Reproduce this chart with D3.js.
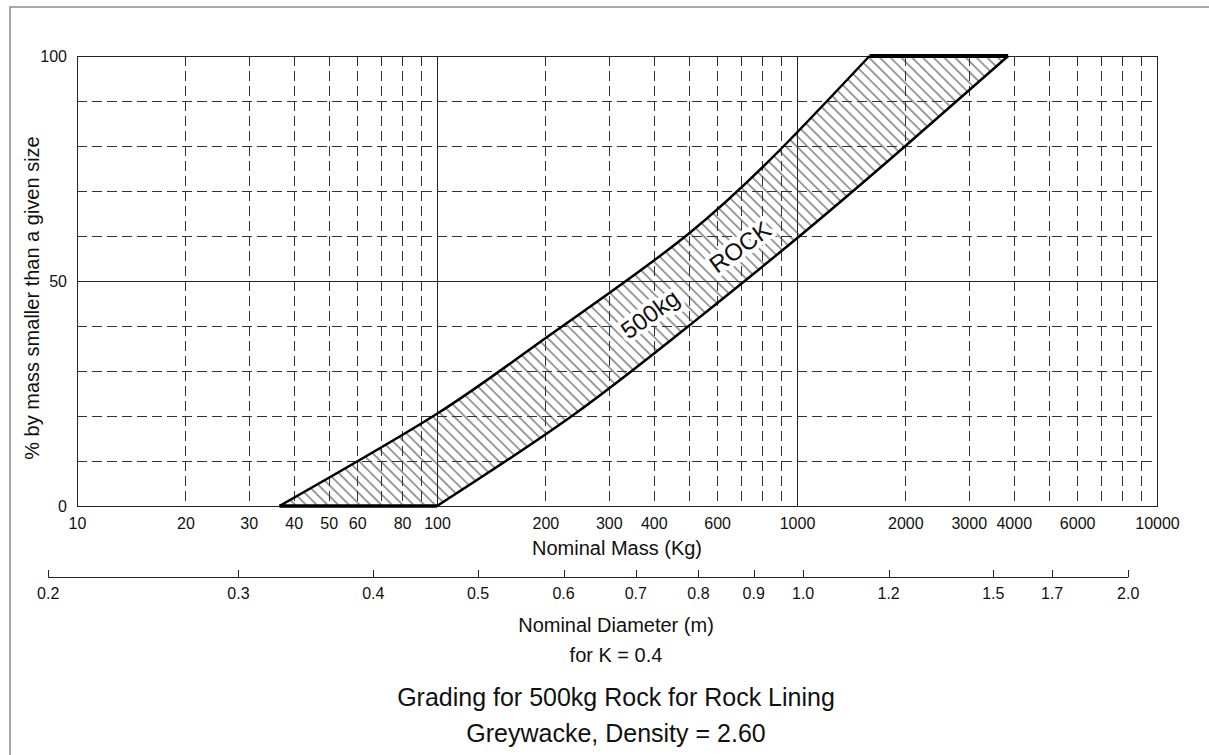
<!DOCTYPE html>
<html>
<head>
<meta charset="utf-8">
<title>Grading for 500kg Rock</title>
<style>
  body { margin: 0; background: #fff; }
  text { font-family: "Liberation Sans", Arial, sans-serif; fill: #111; }
</style>
</head>
<body>
<script src="https://cdn.jsdelivr.net/npm/d3@7"></script>
<script>
// values
var massTicks = [10, 20, 30, 40, 50, 60, 80, 100, 200, 300, 400, 600, 1000, 2000, 3000, 4000, 6000, 10000];
var pctTicks = [0, 50, 100];
var diamTicks = [0.2, 0.3, 0.4, 0.5, 0.6, 0.7, 0.8, 0.9, 1.0, 1.2, 1.5, 1.7, 2.0];
var K = 0.4, density = 2600; // kg/m3, M = K * rho * D^3

// finer limit (upper/left curve)
var fineMass = [36.5, 100, 200, 500, 1000, 1590];
var finePct  = [0, 20.5, 37.3, 60.5, 83, 100];
// coarser limit (lower/right curve)
var coarseMass = [100, 237, 500, 1000, 2000, 3860];
var coarsePct  = [0, 20, 40, 59.5, 80, 100];

var w = 1209, h = 755;
var svg = d3.select("body").append("svg").attr("width", w).attr("height", h);

// outer frame (top and left only)
svg.append("path").attr("d", "M10,755 L10,7 L1209,7")
	.attr("fill", "none").attr("stroke", "#8a8a8a").attr("stroke-width", 1.5);

var pLeft = 77, pRight = 1157, pTop = 56, pBottom = 506;
var x = d3.scaleLog().domain([10, 10000]).range([pLeft, pRight]);
var y = d3.scaleLinear().domain([0, 100]).range([pBottom, pTop]);

var defs = svg.append("defs");
var pat = defs.append("pattern").attr("id", "hatch")
	.attr("patternUnits", "userSpaceOnUse").attr("width", 7.6).attr("height", 7.6)
	.attr("patternTransform", "rotate(-45)");
pat.append("line").attr("x1", 3.8).attr("y1", -1).attr("x2", 3.8).attr("y2", 8.6)
	.attr("stroke", "#3a3a3a").attr("stroke-width", 1);

// grid
var g = svg.append("g");
var isMajorX = function(d){ return [10, 100, 1000, 10000].indexOf(d) >= 0; };
g.selectAll("line.vx").data(x.ticks()).enter().append("line")
	.attr("x1", function(d){ return Math.round(x(d)) + 0.5; })
	.attr("x2", function(d){ return Math.round(x(d)) + 0.5; })
	.attr("y1", pTop).attr("y2", pBottom)
	.attr("stroke", function(d){ return isMajorX(d) ? "#222" : "#333"; })
	.attr("stroke-width", 1)
	.attr("stroke-dasharray", function(d){ return isMajorX(d) ? null : "10,5"; });
g.selectAll("line.hy").data(y.ticks(10)).enter().append("line")
	.attr("y1", function(d){ return Math.round(y(d)) + 0.5; })
	.attr("y2", function(d){ return Math.round(y(d)) + 0.5; })
	.attr("x1", pLeft).attr("x2", pRight)
	.attr("stroke", function(d){ return d % 50 === 0 ? "#222" : "#333"; })
	.attr("stroke-width", 1)
	.attr("stroke-dasharray", function(d){ return d % 50 === 0 ? null : "10,5"; });
g.append("rect").attr("x", pLeft + 0.5).attr("y", pTop + 0.5)
	.attr("width", pRight - pLeft).attr("height", pBottom - pTop)
	.attr("fill", "none").attr("stroke", "#222");

// band: hatch right of the fine curve, clipped to the left of the coarse curve
var finePts = fineMass.map(function(m, i){ return [x(m), y(finePct[i])]; });
var coarsePts = coarseMass.map(function(m, i){ return [x(m), y(coarsePct[i])]; });
var line = d3.line().curve(d3.curveNatural);

defs.append("clipPath").attr("id", "leftOfCoarse").append("path")
	.attr("d", line(coarsePts) + "L" + pLeft + "," + y(100) + "L" + pLeft + "," + y(0) + "Z");
svg.append("path")
	.attr("d", line(finePts) + "L" + pRight + "," + y(100) + "L" + pRight + "," + y(0) + "Z")
	.attr("fill", "url(#hatch)").attr("clip-path", "url(#leftOfCoarse)");

svg.append("path").attr("d", line(finePts)).attr("fill", "none")
	.attr("stroke", "#000").attr("stroke-width", 2.5);
svg.append("path").attr("d", line(coarsePts)).attr("fill", "none")
	.attr("stroke", "#000").attr("stroke-width", 2.5);
svg.append("line").attr("x1", x(fineMass[0])).attr("x2", x(coarseMass[0]))
	.attr("y1", y(0)).attr("y2", y(0)).attr("stroke", "#000").attr("stroke-width", 3.5);
svg.append("line").attr("x1", x(fineMass[fineMass.length - 1])).attr("x2", x(coarseMass[coarseMass.length - 1]))
	.attr("y1", y(100)).attr("y2", y(100)).attr("stroke", "#000").attr("stroke-width", 4);

// band labels
[["500kg", 650, 314], ["ROCK", 740, 247]].forEach(function(t){
	svg.append("text").attr("transform", "translate(" + t[1] + "," + t[2] + ") rotate(-36)")
		.attr("text-anchor", "middle").attr("dy", "0.35em")
		.attr("font-size", 24)
		.attr("stroke", "#fff").attr("stroke-width", 8).attr("paint-order", "stroke")
		.attr("stroke-linejoin", "round")
		.text(t[0]);
});

// axes
var xAxis = svg.append("g").attr("transform", "translate(0," + pBottom + ")")
	.call(d3.axisBottom(x).tickValues(massTicks).tickSize(0).tickPadding(12).tickFormat(d3.format("d")));
xAxis.select(".domain").remove();
xAxis.selectAll("text").attr("font-size", 16).attr("font-family", null).style("fill", "#111");

var yAxis = svg.append("g").attr("transform", "translate(" + pLeft + ",0)")
	.call(d3.axisLeft(y).tickValues(pctTicks).tickSize(0).tickPadding(10));
yAxis.select(".domain").remove();
yAxis.selectAll("text").attr("font-size", 16).attr("font-family", null).style("fill", "#111");

// diameter axis
var dx = function(d){ return x(K * density * d * d * d); };
var dAxisY = 577;
var dg = svg.append("g");
dg.append("line").attr("x1", dx(diamTicks[0])).attr("x2", dx(diamTicks[diamTicks.length - 1]))
	.attr("y1", dAxisY + 0.5).attr("y2", dAxisY + 0.5).attr("stroke", "#222");
dg.selectAll("line.t").data(diamTicks).enter().append("line")
	.attr("x1", function(d){ return Math.round(dx(d)) + 0.5; })
	.attr("x2", function(d){ return Math.round(dx(d)) + 0.5; })
	.attr("y1", dAxisY - 7).attr("y2", dAxisY).attr("stroke", "#222");
dg.selectAll("text").data(diamTicks).enter().append("text")
	.attr("x", dx).attr("y", 599).attr("text-anchor", "middle").attr("font-size", 16)
	.text(d3.format(".1f"));

// titles
svg.append("text").attr("x", 617).attr("y", 555).attr("text-anchor", "middle")
	.attr("font-size", 20).text("Nominal Mass (Kg)");
svg.append("text").attr("transform", "translate(39,298) rotate(-90)").attr("text-anchor", "middle")
	.attr("font-size", 20).text("% by mass smaller than a given size");
svg.append("text").attr("x", 616).attr("y", 632).attr("text-anchor", "middle")
	.attr("font-size", 20).text("Nominal Diameter (m)");
svg.append("text").attr("x", 616).attr("y", 662).attr("text-anchor", "middle")
	.attr("font-size", 20).text("for K = 0.4");
svg.append("text").attr("x", 616).attr("y", 706).attr("text-anchor", "middle")
	.attr("font-size", 25).text("Grading for 500kg Rock for Rock Lining");
svg.append("text").attr("x", 616).attr("y", 742).attr("text-anchor", "middle")
	.attr("font-size", 25).text("Greywacke, Density = 2.60");
</script>
</body>
</html>
